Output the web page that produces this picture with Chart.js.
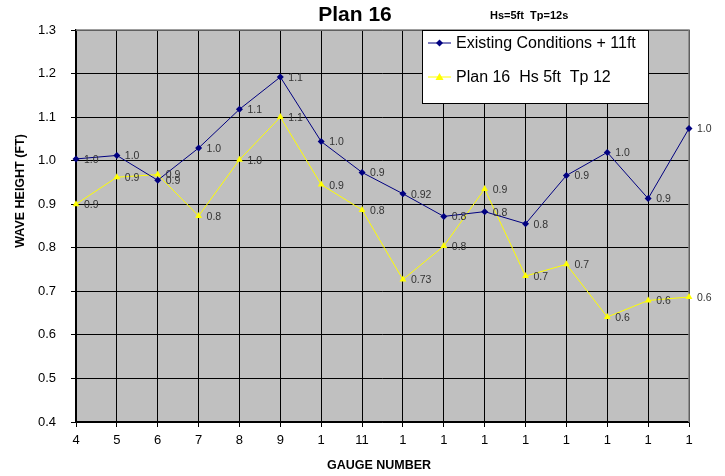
<!DOCTYPE html>
<html>
<head>
<meta charset="utf-8">
<script src="https://cdn.jsdelivr.net/npm/chart.js@4.4.1/dist/chart.umd.min.js"></script>
<style>
  html, body { margin: 0; padding: 0; background: #fff; }
  #wrap { width: 725px; height: 476px; }
</style>
</head>
<body>
<div id="wrap"><canvas id="waveChart" width="725" height="476"></canvas></div>
<script>
// gauge labels as printed (truncated in the original)
var gauges = ['4', '5', '6', '7', '8', '9', '1', '11', '1', '1', '1', '1', '1', '1', '1', '1'];

// Existing Conditions + 11ft
var existing = [1.004, 1.012, 0.955, 1.029, 1.118, 1.192, 1.044, 0.973, 0.924, 0.872, 0.883, 0.855, 0.966, 1.019, 0.913, 1.074];
var existingLabels = ['1.0', '1.0', '0.9', '1.0', '1.1', '1.1', '1.0', '0.9', '0.92', '0.8', '0.8', '0.8', '0.9', '1.0', '0.9', '1.0'];

// Plan 16 Hs 5ft Tp 12
var plan16 = [0.900, 0.962, 0.968, 0.873, 1.002, 1.100, 0.945, 0.887, 0.727, 0.804, 0.935, 0.735, 0.762, 0.641, 0.679, 0.687];
var plan16Labels = ['0.9', '0.9', '0.9', '0.8', '1.0', '1.1', '0.9', '0.8', '0.73', '0.8', '0.9', '0.7', '0.7', '0.6', '0.6', '0.6'];

var FONT = '"Liberation Sans", Arial, sans-serif';

// gray plot background + gray top/right frame
var plotBg = {
  id: 'plotBg',
  beforeDraw: function(chart) {
    var a = chart.chartArea, c = chart.ctx;
    c.save();
    c.fillStyle = '#c0c0c0';
    c.fillRect(a.left, a.top, a.right - a.left, a.bottom - a.top);
    c.restore();
  },
  beforeDatasetsDraw: function(chart) {
    var a = chart.chartArea, c = chart.ctx;
    c.save();
    c.strokeStyle = '#808080';
    c.lineWidth = 1.5;
    c.beginPath();
    c.moveTo(a.left, a.top);
    c.lineTo(a.right, a.top);
    c.lineTo(a.right, a.bottom);
    c.stroke();
    c.restore();
  }
};

// value labels, titles and the boxed legend
var extras = {
  id: 'extras',
  afterDraw: function(chart) {
    var c = chart.ctx;
    c.save();

    // point labels
    c.font = '10.5px ' + FONT;
    c.fillStyle = '#333';
    c.textAlign = 'left';
    c.textBaseline = 'middle';
    [existingLabels, plan16Labels].forEach(function(lbls, di) {
      var meta = chart.getDatasetMeta(di);
      meta.data.forEach(function(pt, i) {
        c.fillText(lbls[i], pt.x + 8, pt.y + 1);
      });
    });

    // titles
    c.fillStyle = '#000';
    c.textAlign = 'center';
    c.textBaseline = 'alphabetic';
    c.font = 'bold 21px ' + FONT;
    c.fillText('Plan 16', 355, 21);
    c.textAlign = 'left';
    c.font = 'bold 11px ' + FONT;
    c.fillText('Hs=5ft  Tp=12s', 490, 19);

    c.textAlign = 'center';
    c.textBaseline = 'middle';
    c.font = 'bold 12.5px ' + FONT;
    c.fillText('GAUGE NUMBER', 379, 466);
    c.save();
    c.translate(21, 191);
    c.rotate(-Math.PI / 2);
    c.fillText('WAVE HEIGHT (FT)', 0, 0);
    c.restore();

    // legend box
    c.fillStyle = '#fff';
    c.fillRect(422, 30, 226, 73);
    c.strokeStyle = '#000';
    c.lineWidth = 1;
    c.strokeRect(422.5, 30.5, 226, 73);

    var rows = [
      { text: 'Existing Conditions + 11ft', color: '#000080', y: 43, shape: 'diamond' },
      { text: 'Plan 16  Hs 5ft  Tp 12', color: '#ffff00', y: 77, shape: 'triangle' }
    ];
    rows.forEach(function(r) {
      c.strokeStyle = r.color;
      c.fillStyle = r.color;
      c.beginPath();
      c.moveTo(428, r.y);
      c.lineTo(451, r.y);
      c.stroke();
      c.beginPath();
      if (r.shape === 'diamond') {
        c.moveTo(439.5, r.y - 3.5);
        c.lineTo(443, r.y);
        c.lineTo(439.5, r.y + 3.5);
        c.lineTo(436, r.y);
      } else {
        c.moveTo(439.5, r.y - 4);
        c.lineTo(443.5, r.y + 3);
        c.lineTo(435.5, r.y + 3);
      }
      c.closePath();
      c.fill();
      c.fillStyle = '#000';
      c.textAlign = 'left';
      c.font = '16px ' + FONT;
      c.fillText(r.text, 456, r.y + 1);
    });

    c.restore();
  }
};

var ctx = document.getElementById('waveChart').getContext('2d');

var waveChart = new Chart(ctx, {
  type: 'line',
  data: {
    labels: gauges,
    datasets: [{
      label: 'Existing Conditions + 11ft',
      data: existing,
      borderColor: '#000080',
      backgroundColor: '#000080',
      borderWidth: 1,
      pointStyle: 'rectRot',
      pointRadius: 3.5,
      pointBorderWidth: 0,
      tension: 0,
      clip: false
    }, {
      label: 'Plan 16  Hs 5ft  Tp 12',
      data: plan16,
      borderColor: '#ffff00',
      backgroundColor: '#ffff00',
      borderWidth: 1,
      pointStyle: 'triangle',
      pointRadius: 4,
      pointBorderWidth: 0,
      tension: 0,
      clip: false
    }]
  },
  options: {
    responsive: false,
    animation: false,
    layout: { padding: { top: 30, right: 36, bottom: 0, left: 0 } },
    plugins: {
      legend: { display: false },
      title: { display: false },
      tooltip: { enabled: false }
    },
    scales: {
      x: {
        offset: false,
        grid: { color: '#000', lineWidth: 1, offset: false, tickLength: 5, tickColor: '#000' },
        border: { color: '#000', width: 1.5 },
        ticks: { color: '#000', font: { family: FONT, size: 13 }, padding: 6, maxRotation: 0, autoSkip: false },
        afterFit: function(scale) { scale.height = 54; }
      },
      y: {
        min: 0.4,
        max: 1.3,
        grid: { color: '#000', lineWidth: 1, tickLength: 5, tickColor: '#000' },
        border: { color: '#000', width: 1.5 },
        ticks: {
          stepSize: 0.1,
          color: '#000',
          padding: 15,
          font: { family: FONT, size: 13 },
          callback: function(v) { return Number(v).toFixed(1); }
        },
        afterFit: function(scale) { scale.width = 76; }
      }
    }
  },
  plugins: [plotBg, extras]
});
</script>
</body>
</html>
